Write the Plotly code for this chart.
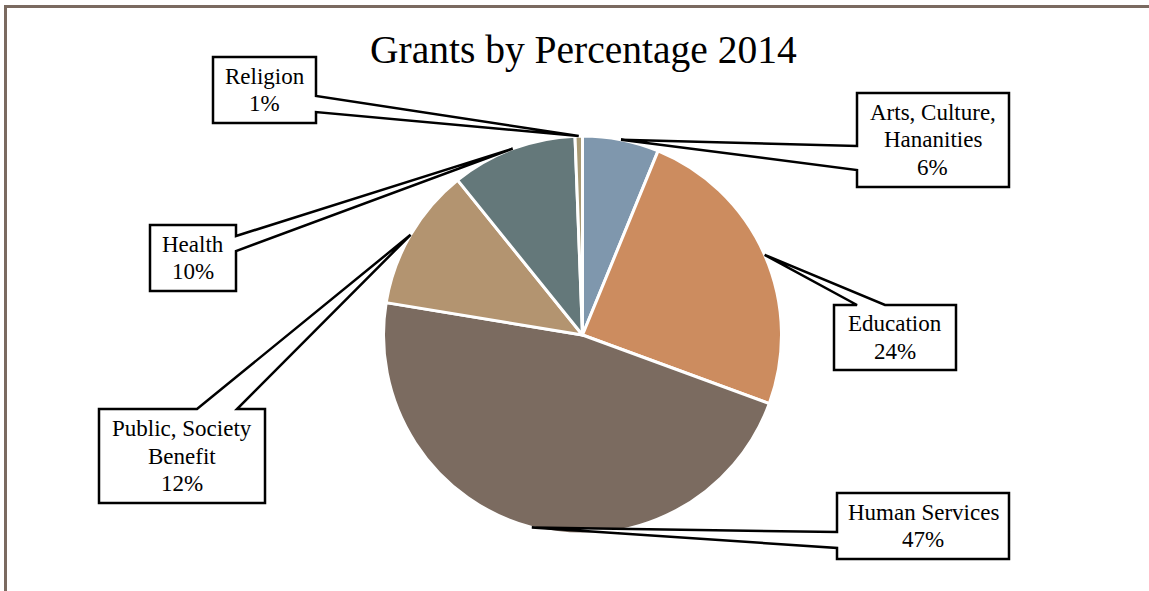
import math
import plotly.graph_objects as go

# ---- data ----
categories = ["Arts, Culture,<br>Hananities", "Education", "Human Services",
              "Public, Society<br>Benefit", "Health", "Religion"]
values = [6.2, 24.4, 47.0, 11.6, 10.2, 0.6]
colors = ["#7f97ad", "#cc8c5f", "#7b6b60", "#b39470", "#64787a", "#a89a74"]
title_text = "Grants by Percentage 2014"

# ---- layout geometry (pixels) ----
W, H = 1149, 591
CX, CY, R = 582.5, 335.0, 199.0
LINE_H = 27.5

def px(x):
    return x / W

def py(y):
    return 1 - y / H

# label boxes: (left, top, right, bottom, wedge side, wedge p1, wedge p2)
boxes = [
    (857, 93, 1009, 187, "left", 146, 170),
    (834, 305, 956, 370, "top", 857, 885),
    (837, 493, 1009, 559, "left", 532, 548),
    (99, 409, 265, 503, "top", 197, 237),
    (150, 225, 236, 291, "right", 236, 251),
    (213, 57, 316, 123, "right", 96, 112),
]

fig = go.Figure()
fig.add_trace(go.Pie(
    labels=categories, values=values, sort=False, direction="clockwise",
    rotation=0, textinfo="none", hoverinfo="label+percent",
    marker=dict(colors=colors, line=dict(color="white", width=3)),
    domain=dict(x=[px(CX - R), px(CX + R)], y=[py(CY + R), py(CY - R)]),
    showlegend=False,
))

total = sum(values)
shapes = []
annotations = []
cum = 0.0
for cat, v, b in zip(categories, values, boxes):
    mid = (cum + v / 2) / total * 2 * math.pi
    cum += v
    ax = CX + R * math.sin(mid)
    ay = CY - R * math.cos(mid)
    l, t, r, btm, side, w1, w2 = b
    if side == "right":
        pts = [(l, t), (r, t), (r, w1), (ax, ay), (r, w2), (r, btm), (l, btm)]
    elif side == "left":
        pts = [(l, t), (r, t), (r, btm), (l, btm), (l, w2), (ax, ay), (l, w1)]
    else:  # top
        pts = [(l, t), (w1, t), (ax, ay), (w2, t), (r, t), (r, btm), (l, btm)]
    path = "M " + " L ".join(f"{px(x):.5f},{py(y):.5f}" for x, y in pts) + " Z"
    shapes.append(dict(type="path", xref="paper", yref="paper", path=path,
                       fillcolor="white", line=dict(color="black", width=2.5),
                       layer="above"))
    pct = round(v / total * 100)
    lines = cat.split("<br>") + [f"{pct}%"]
    cy = (t + btm) / 2
    n = len(lines)
    for i, ln in enumerate(lines):
        yline = cy + (i - (n - 1) / 2) * LINE_H
        annotations.append(dict(
            x=px((l + r) / 2), y=py(yline), xref="paper", yref="paper",
            text=ln, showarrow=False, xanchor="center", yanchor="middle",
            font=dict(family="Liberation Serif", size=23, color="black"),
        ))

annotations.append(dict(
    x=px(583), y=py(50), xref="paper", yref="paper", text=title_text,
    showarrow=False, xanchor="center", yanchor="middle",
    font=dict(family="Liberation Serif", size=39.5, color="black"),
))

# frame lines (top and left)
shapes.append(dict(type="line", xref="paper", yref="paper", x0=px(4), x1=1,
                   y0=py(6.5), y1=py(6.5), line=dict(color="#7a6a60", width=3)))
shapes.append(dict(type="line", xref="paper", yref="paper", x0=px(5.5), x1=px(5.5),
                   y0=py(5), y1=0, line=dict(color="#7a6a60", width=3)))

fig.update_layout(
    width=W, height=H, margin=dict(l=0, r=0, t=0, b=0),
    paper_bgcolor="white", plot_bgcolor="white",
    shapes=shapes, annotations=annotations,
)

fig.write_html("out.html", config={"displayModeBar": False},
               post_script="document.body.style.margin='0';")
